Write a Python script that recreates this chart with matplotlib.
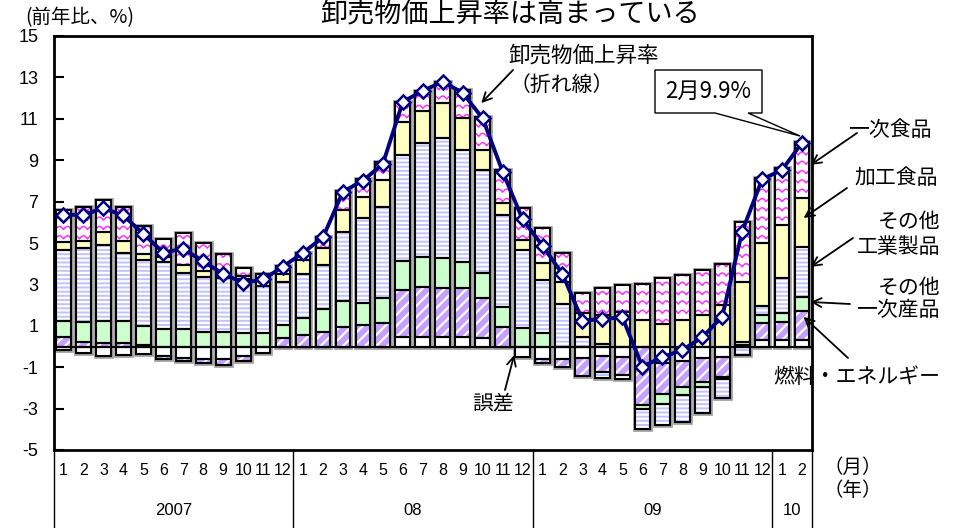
import matplotlib.pyplot as plt
import matplotlib.transforms as mtransforms
from matplotlib.patches import Polygon
import numpy as np

plt.rcParams['font.family'] = ['Liberation Sans', 'Noto Sans CJK JP']
plt.rcParams['hatch.linewidth'] = 1.6
plt.rcParams['axes.unicode_minus'] = False
JP = ['Noto Sans CJK JP', 'DejaVu Sans']

# months Jan 2007 .. Feb 2010
months = list(range(1, 13)) * 3 + [1, 2]
years = ['2007', '08', '09', '10']
year_len = [12, 12, 12, 2]

# contributions (percentage points), stacked in this order
err = [-0.16, -0.32, -0.48, -0.43, -0.35, -0.48, -0.56, -0.61, -0.61, -0.45, -0.30, 0.00,
       0.00, 0.00, 0.00, 0.00, 0.00, 0.47, 0.47, 0.47, 0.47, 0.39, 0.00, -0.52,
       -0.62, -0.62, -0.57, -0.46, -0.52, 0.00, -0.80, -0.68, -0.57, -0.49, 0.00, 0.31,
       0.31, 0.31]
fuel = [0.48, 0.24, 0.16, 0.19, 0.08, -0.12, -0.16, -0.20, -0.28, -0.23, 0.00, 0.40,
        0.56, 0.72, 0.96, 1.04, 1.12, 2.26, 2.42, 2.34, 2.34, 1.94, 0.96, 0.00,
        -0.19, -0.39, -0.85, -0.76, -0.85, -2.82, -1.48, -1.29, -1.13, -0.97, 0.08, 0.81,
        0.89, 1.42]
other_primary = [0.73, 0.94, 1.05, 1.02, 0.89, 0.84, 0.84, 0.72, 0.71, 0.64, 0.64, 0.64,
                 0.80, 1.07, 1.25, 1.05, 1.21, 1.42, 1.45, 1.45, 1.29, 1.20, 0.96, 0.88,
                 0.64, 0.00, 0.00, 0.10, 0.00, -0.21, -0.49, -0.37, -0.27, -0.13, 0.15, 0.41,
                 0.43, 0.68]
other_ind = [3.43, 3.57, 3.70, 3.33, 3.22, 3.22, 2.73, 2.63, 2.59, 2.60, 2.28, 2.09,
             2.13, 2.15, 3.34, 4.11, 4.43, 5.10, 5.48, 5.80, 5.39, 5.00, 4.43, 3.78,
             2.58, 2.07, 0.47, -0.31, -0.22, -0.97, -1.02, -1.29, -1.23, -0.91, -0.42, 0.44,
             1.66, 2.41]
processed = [0.43, 0.37, 0.60, 0.58, 0.29, 0.26, 0.37, 0.32, 0.13, 0.15, 0.32, 0.37,
             0.69, 0.80, 1.05, 1.04, 1.28, 1.61, 1.56, 1.69, 1.53, 0.96, 0.60, 0.48,
             0.80, 1.06, 1.13, 1.42, 1.68, 1.28, 1.10, 1.28, 1.53, 2.00, 2.90, 3.03,
             2.57, 2.34]
primary_food = [1.53, 1.60, 1.57, 1.61, 1.35, 0.87, 1.53, 1.32, 1.05, 0.42, 0.26, 0.40,
                0.35, 0.53, 0.93, 0.84, 0.89, 0.96, 0.97, 1.04, 1.37, 1.58, 1.58, 1.53,
                1.69, 1.37, 1.00, 1.29, 1.29, 1.74, 2.19, 2.17, 2.16, 1.99, 2.90, 3.12,
                2.74, 2.73]
# wholesale price index, year-on-year (%)
wpi = [6.36, 6.36, 6.68, 6.33, 5.44, 4.54, 4.72, 4.11, 3.51, 3.08, 3.24, 3.86,
       4.53, 5.27, 7.48, 8.01, 8.82, 11.82, 12.35, 12.79, 12.26, 11.02, 8.45, 6.14,
       4.87, 3.50, 1.25, 1.33, 1.41, -0.97, -0.52, -0.17, 0.44, 1.44, 5.55, 8.08,
       8.53, 9.85]

W, H = 960, 528


def P(px, py):
    return (px / W, 1 - py / H)


fig = plt.figure(figsize=(W / 100, H / 100), dpi=100)
ax = fig.add_axes([53.5 / W, 1 - 450 / H, (812 - 53.5) / W, 414 / H])

x = np.arange(len(months))
bw = 0.74
series = [err, fuel, other_primary, other_ind, processed, primary_food]
faces = ['white', '#C6A0FF', '#CCFFCC', '#C2C2FF', '#FFFFC2', 'white']
hatches = [None, '///', None, '----', None, None]

pos = np.zeros(len(x))
neg = np.zeros(len(x))
tot_pos = np.sum([np.clip(s, 0, None) for s in series], axis=0)
tot_neg = np.sum([np.clip(s, None, 0) for s in series], axis=0)
ax.bar(x, tot_pos - tot_neg, bw, bottom=tot_neg, fill=False,
       edgecolor='#A0A0A0', linewidth=3.4, zorder=1.5)

for k, vals in enumerate(series):
    v = np.array(vals)
    base = np.where(v >= 0, pos, neg)
    bars = ax.bar(x, v, bw, bottom=base, color=faces[k], edgecolor='white',
                  hatch=hatches[k], linewidth=0, zorder=2)
    ax.bar(x, v, bw, bottom=base, fill=False, edgecolor='black',
           linewidth=1.5, zorder=3)
    if k == 5:
        # wavy pattern of primary food
        for p in bars.patches:
            lo = min(p.get_y(), p.get_y() + p.get_height())
            hi = max(p.get_y(), p.get_y() + p.get_height())
            if hi - lo < 0.05:
                continue
            xs = np.linspace(p.get_x(), p.get_x() + p.get_width(), 40)
            for lev in np.arange(np.floor(lo / 0.45) * 0.45 - 0.2, hi + 0.45, 0.45):
                ys = lev + 0.15 * np.abs(np.sin(np.pi * xs / 0.4))
                ln, = ax.plot(xs, ys, color='#FF33FF', lw=1.1, zorder=2.5)
                ln.set_clip_path(p)
    pos += np.clip(v, 0, None)
    neg += np.clip(v, None, 0)

ax.axhline(0, color='black', lw=1.5, zorder=4)
ax.plot(x, wpi, color='#000080', lw=2.8, marker='D', ms=7, mfc='white',
        mec='#000080', mew=1.8, zorder=6)

ax.set_xlim(-0.5, len(x) - 0.5)
ax.set_ylim(-5, 15)
ax.set_yticks(range(-5, 16, 2))
ax.set_xticks([])
ax.tick_params(axis='y', direction='in', length=7, width=1.5, labelsize=13, pad=11)
for s in ax.spines.values():
    s.set_linewidth(2)

# month / year labels under the axis
trans = mtransforms.blended_transform_factory(ax.transData, ax.transAxes)
for i, m in enumerate(months):
    ax.text(i, -0.05, str(m), transform=trans, ha='center', va='center', fontsize=11.5)
start = 0
bounds = [0]
for yl, n in zip(years, year_len):
    ax.text(start + n / 2 - 0.5, -0.147, yl, transform=trans, ha='center',
            va='center', fontsize=12)
    start += n
    bounds.append(start)
for b in bounds:
    ax.plot([b - 0.5, b - 0.5], [0, -0.2], transform=trans, color='black',
            lw=1, clip_on=False)
fig.text(*P(853, 467), '（月）', family=JP, fontsize=14, ha='center', va='center')
fig.text(*P(853, 490), '（年）', family=JP, fontsize=14, ha='center', va='center')

fig.text(*P(510, 14), '卸売物価上昇率は高まっている', family=JP, fontsize=19.5,
         ha='center', va='center')
fig.text(*P(80, 18), '(前年比、%)', family=JP, fontsize=14, ha='center', va='center')

# annotations
fig.text(*P(584, 56), '卸売物価上昇率', family=JP, fontsize=15.5, ha='center', va='center')
fig.text(*P(562, 85), '（折れ線）', family=JP, fontsize=15, ha='center', va='center')

bubble = [(655, 70), (762, 70), (762, 113), (748, 113), (800, 136),
          (715, 113), (655, 113)]
fig.add_artist(Polygon([P(a, b) for a, b in bubble], closed=True, facecolor='white',
                       edgecolor='black', lw=1, transform=fig.transFigure, zorder=8))
fig.text(*P(708, 91), '2月9.9%', family=JP, fontsize=16, ha='center', va='center', zorder=9)

fig.text(*P(890, 130), '一次食品', family=JP, fontsize=15, ha='center', va='center')
fig.text(*P(896, 178), '加工食品', family=JP, fontsize=15, ha='center', va='center')
fig.text(*P(940, 222), 'その他', family=JP, fontsize=15, ha='right', va='center')
fig.text(*P(940, 247), '工業製品', family=JP, fontsize=15, ha='right', va='center')
fig.text(*P(940, 288), 'その他', family=JP, fontsize=15, ha='right', va='center')
fig.text(*P(940, 310), '一次産品', family=JP, fontsize=15, ha='right', va='center')
fig.text(*P(857, 377), '燃料・エネルギー', family=JP, fontsize=15, ha='center', va='center')
fig.text(*P(493, 403), '誤差', family=JP, fontsize=15, ha='center', va='center')

arrows = [((20.93, 11.76), (513, 70)),
          ((37.43, 8.77), (857, 133)),
          ((37.08, 6.21), (847, 188)),
          ((37.43, 3.84), (853, 238)),
          ((37.43, 2.15), (850, 304)),
          ((37.08, 1.43), (848, 358)),
          ((22.58, -0.41), (505, 390))]
for head, tail in arrows:
    ax.annotate('', xy=head, xycoords='data', xytext=P(*tail),
                textcoords='figure fraction', annotation_clip=False, zorder=7,
                arrowprops=dict(arrowstyle='->', color='black', lw=1.3,
                                shrinkA=0, shrinkB=0, mutation_scale=16))

fig.savefig('out.png', dpi=100)
